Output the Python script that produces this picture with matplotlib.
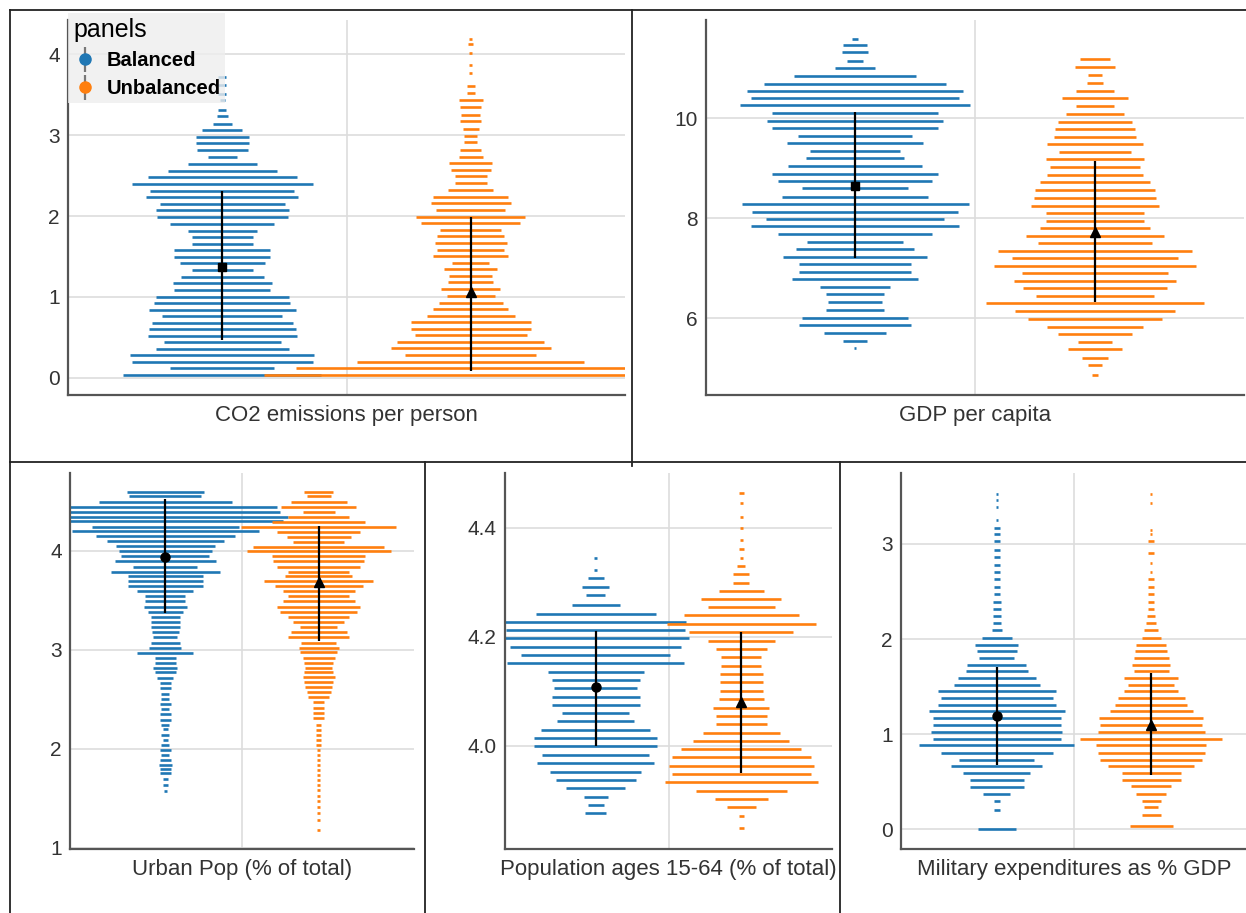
import numpy as np
import matplotlib.pyplot as plt
from matplotlib.lines import Line2D

plt.rcParams['font.family'] = ['Liberation Sans', 'DejaVu Sans']

# ---- data (row value, number of points in the row) ----
co2_blue_y = [3.72, 3.62, 3.51, 3.43, 3.31, 3.23, 3.14, 3.06, 2.98, 2.90, 2.82, 2.73, 2.64, 2.56, 2.48,
              2.40, 2.31, 2.23, 2.15, 2.07, 1.99, 1.90, 1.82, 1.74, 1.66, 1.58, 1.50, 1.42, 1.33, 1.25,
              1.17, 1.09, 1.00, 0.93, 0.84, 0.76, 0.68, 0.60, 0.52, 0.44, 0.36, 0.28, 0.20, 0.12, 0.04]
co2_blue_n = [3, 3, 3, 2, 3, 4, 7, 15, 20, 20, 19, 11, 26, 41, 56, 68, 54, 57, 47, 50, 49, 39, 26, 23, 23,
              36, 36, 32, 23, 31, 37, 36, 50, 51, 55, 45, 53, 55, 56, 44, 50, 69, 68, 39, 74]
co2_orange_y = [4.19, 4.12, 4.01, 3.87, 3.77, 3.61, 3.52, 3.43, 3.34, 3.25, 3.17, 3.08, 2.99, 2.91, 2.82,
                2.73, 2.66, 2.57, 2.49, 2.41, 2.32, 2.24, 2.16, 2.07, 1.99, 1.91, 1.83, 1.75, 1.67, 1.58,
                1.51, 1.42, 1.34, 1.26, 1.18, 1.10, 1.01, 0.93, 0.85, 0.77, 0.69, 0.61, 0.53, 0.44, 0.37,
                0.28, 0.20, 0.12, 0.04]
co2_orange_n = [1, 2, 1, 1, 1, 3, 3, 9, 8, 7, 8, 6, 5, 5, 8, 9, 16, 15, 12, 12, 17, 28, 30, 26, 41, 37, 23,
                25, 27, 25, 28, 14, 20, 16, 17, 22, 18, 24, 28, 33, 45, 45, 42, 55, 60, 49, 85, 131, 155]

gdp_blue_y = [11.59, 11.47, 11.32, 11.15, 11.01, 10.85, 10.70, 10.55, 10.41, 10.27, 10.10, 9.95, 9.80, 9.65,
              9.50, 9.35, 9.20, 9.05, 8.89, 8.75, 8.60, 8.43, 8.29, 8.13, 7.99, 7.85, 7.68, 7.53, 7.38,
              7.23, 7.08, 6.93, 6.78, 6.63, 6.48, 6.32, 6.17, 6.01, 5.87, 5.71, 5.55, 5.40]
gdp_blue_n = [2, 9, 10, 6, 15, 46, 68, 81, 78, 86, 62, 66, 62, 43, 51, 34, 37, 50, 62, 58, 40, 55, 85, 77,
              67, 78, 58, 36, 44, 54, 42, 42, 47, 26, 22, 20, 22, 40, 42, 23, 9, 1]
gdp_orange_y = [11.18, 11.03, 10.87, 10.71, 10.55, 10.40, 10.24, 10.09, 9.93, 9.79, 9.63, 9.49, 9.33, 9.18,
                9.03, 8.87, 8.72, 8.57, 8.41, 8.25, 8.11, 7.95, 7.80, 7.65, 7.50, 7.35, 7.20, 7.05, 6.90,
                6.75, 6.60, 6.45, 6.30, 6.15, 5.99, 5.83, 5.69, 5.53, 5.39, 5.22, 5.07, 4.88]
gdp_orange_n = [11, 15, 5, 6, 14, 25, 14, 22, 28, 30, 31, 36, 27, 37, 34, 36, 41, 45, 46, 48, 37, 37, 41, 52,
                43, 73, 62, 76, 55, 61, 54, 44, 82, 60, 50, 36, 28, 13, 20, 10, 5, 2]

urban_blue_y = [4.59, 4.55, 4.49, 4.44, 4.39, 4.34, 4.30, 4.24, 4.20, 4.15, 4.10, 4.05, 4.00, 3.95, 3.90,
                3.84, 3.79, 3.74, 3.69, 3.64, 3.59, 3.54, 3.49, 3.43, 3.38, 3.33, 3.28, 3.23, 3.18, 3.13,
                3.07, 3.02, 2.97, 2.92, 2.87, 2.82, 2.77, 2.71, 2.66, 2.61, 2.55, 2.50, 2.45, 2.40, 2.35,
                2.29, 2.24, 2.20, 2.14, 2.09, 2.04, 1.99, 1.94, 1.89, 1.84, 1.80, 1.75, 1.69, 1.63, 1.57]
urban_blue_n = [29, 27, 50, 84, 86, 92, 88, 55, 70, 52, 44, 37, 35, 33, 38, 24, 41, 28, 28, 28, 21, 15, 15,
                16, 13, 11, 11, 11, 10, 9, 11, 12, 21, 8, 8, 9, 8, 6, 4, 4, 3, 3, 4, 3, 4, 4, 3, 2, 3, 2,
                3, 4, 3, 4, 5, 4, 4, 2, 2, 1]
urban_orange_y = [4.59, 4.55, 4.49, 4.44, 4.39, 4.34, 4.29, 4.24, 4.19, 4.14, 4.09, 4.04, 4.00, 3.95, 3.90,
                  3.84, 3.79, 3.74, 3.69, 3.64, 3.59, 3.54, 3.49, 3.43, 3.38, 3.33, 3.28, 3.23, 3.18, 3.13,
                  3.07, 3.02, 2.98, 2.92, 2.87, 2.82, 2.77, 2.72, 2.67, 2.62, 2.57, 2.52, 2.47, 2.41, 2.36,
                  2.31, 2.24, 2.19, 2.14, 2.09, 2.04, 1.99, 1.94, 1.89, 1.84, 1.79, 1.73, 1.68, 1.63, 1.58,
                  1.52, 1.47, 1.41, 1.35, 1.28, 1.18]
urban_orange_n = [11, 9, 21, 28, 12, 23, 35, 58, 31, 24, 19, 49, 54, 35, 34, 31, 23, 25, 41, 33, 27, 23, 27,
                  31, 29, 23, 19, 14, 21, 23, 13, 15, 14, 12, 11, 10, 11, 12, 11, 10, 9, 8, 4, 4, 4, 4, 2,
                  2, 2, 2, 2, 1, 1, 1, 1, 1, 1, 1, 1, 1, 1, 1, 1, 1, 1, 1]

pop_blue_y = [4.344, 4.322, 4.307, 4.292, 4.276, 4.258, 4.242, 4.227, 4.213, 4.197, 4.182, 4.167, 4.151,
              4.136, 4.121, 4.106, 4.090, 4.075, 4.060, 4.045, 4.029, 4.014, 3.999, 3.984, 3.968, 3.953,
              3.938, 3.922, 3.907, 3.892, 3.877]
pop_blue_n = [1, 1, 6, 10, 7, 18, 45, 68, 67, 70, 64, 56, 66, 36, 33, 31, 33, 33, 25, 29, 41, 46, 46, 40,
              44, 34, 30, 22, 9, 6, 8]
pop_orange_y = [4.463, 4.445, 4.419, 4.400, 4.377, 4.360, 4.344, 4.329, 4.315, 4.299, 4.284, 4.269, 4.254,
                4.239, 4.224, 4.209, 4.193, 4.178, 4.162, 4.147, 4.132, 4.117, 4.101, 4.086, 4.070, 4.055,
                4.040, 4.024, 4.009, 3.994, 3.979, 3.964, 3.949, 3.933, 3.918, 3.903, 3.888, 3.871, 3.849]
pop_orange_n = [2, 1, 1, 1, 1, 2, 1, 3, 6, 6, 17, 30, 25, 43, 56, 39, 25, 19, 15, 15, 16, 16, 16, 17, 21,
                19, 19, 29, 36, 45, 52, 54, 52, 57, 34, 20, 11, 2, 2]

mil_blue_y = [3.53, 3.46, 3.39, 3.25, 3.17, 3.10, 3.03, 2.94, 2.86, 2.78, 2.70, 2.63, 2.55, 2.47, 2.39,
              2.32, 2.24, 2.17, 2.09, 2.01, 1.94, 1.87, 1.80, 1.73, 1.66, 1.59, 1.52, 1.45, 1.38, 1.31,
              1.24, 1.17, 1.09, 1.02, 0.95, 0.88, 0.80, 0.73, 0.66, 0.59, 0.52, 0.44, 0.37, 0.30, 0.20, 0.00]
mil_blue_n = [1, 1, 1, 1, 2, 2, 2, 2, 2, 2, 2, 2, 2, 2, 3, 3, 3, 3, 4, 11, 16, 15, 13, 22, 23, 29, 32, 44,
              42, 44, 51, 48, 48, 49, 48, 58, 42, 28, 34, 25, 20, 20, 10, 2, 2, 14]
mil_orange_y = [3.53, 3.43, 3.15, 3.11, 3.03, 2.90, 2.80, 2.71, 2.63, 2.55, 2.47, 2.39, 2.32, 2.24, 2.17,
                2.09, 2.01, 1.94, 1.87, 1.80, 1.73, 1.66, 1.59, 1.52, 1.45, 1.38, 1.31, 1.24, 1.17, 1.09,
                1.02, 0.95, 0.88, 0.80, 0.73, 0.66, 0.59, 0.52, 0.45, 0.37, 0.30, 0.23, 0.15, 0.03]
mil_orange_n = [1, 1, 1, 1, 2, 2, 1, 1, 2, 2, 2, 2, 2, 3, 4, 5, 7, 11, 12, 13, 14, 13, 20, 17, 20, 25, 27,
                31, 39, 38, 40, 53, 41, 40, 38, 32, 22, 22, 15, 11, 7, 5, 7, 16]

# mean, lower, upper of the black error bars
co2_stats = [(1.37, 0.47, 2.31), (1.06, 0.09, 1.99)]
gdp_stats = [(8.65, 7.20, 10.13), (7.72, 6.32, 9.15)]
urban_stats = [(3.94, 3.37, 4.52), (3.68, 3.09, 4.25)]
pop_stats = [(4.107, 4.000, 4.211), (4.080, 3.950, 4.209)]
mil_stats = [(1.19, 0.67, 1.71), (1.10, 0.57, 1.64)]

panel_labels = ['CO2 emissions per person', 'GDP per capita', 'Urban Pop (% of total)',
                'Population ages 15-64 (% of total)', 'Military expenditures as % GDP']
group_labels = ['Balanced', 'Unbalanced']

BLUE = '#1f77b4'
ORANGE = '#ff7f0e'
DODGE = 0.223
DOT_PX = 2.67

W, H = 1246, 913
fig = plt.figure(figsize=(W / 100, H / 100), dpi=100)


def add_axes_px(left, top, right, bottom):
    return fig.add_axes([left / W, 1 - bottom / H, (right - left) / W, (bottom - top) / H])


def draw_panel(ax, label, ylim, yticks, yticklabels, blue, orange, stats, blue_marker, ms):
    ax.set_xlim(-0.5, 0.5)
    ax.set_ylim(*ylim)
    step = DOT_PX / ax.bbox.width  # x data units per point in a row
    for xc, (ys, ns), col in ((-DODGE, blue, BLUE), (DODGE, orange, ORANGE)):
        ys = np.asarray(ys)
        w = np.asarray(ns) * step
        ax.hlines(ys, xc - w / 2, xc + w / 2, colors=col, lw=1.9, zorder=2)
    for xc, (m, lo, hi), mk, size in ((-DODGE, stats[0], blue_marker, ms[0]),
                                      (DODGE, stats[1], '^', ms[1])):
        ax.errorbar([xc], [m], yerr=[[m - lo], [hi - m]], fmt=mk, color='black', ms=size,
                    elinewidth=1.6, capsize=0, zorder=4)
    ax.set_xticks([0])
    ax.set_xticklabels([label])
    ax.set_yticks(yticks)
    ax.set_yticklabels(yticklabels)
    ax.grid(True, color='#dddddd', lw=1.2)
    ax.set_axisbelow(True)
    for s in ('top', 'right'):
        ax.spines[s].set_visible(False)
    for s in ('left', 'bottom'):
        ax.spines[s].set_color('#555555')
        ax.spines[s].set_linewidth(1.6)
    ax.tick_params(length=0, labelsize=15, labelcolor='#333333', pad=6)
    ax.tick_params(axis='x', labelsize=16, pad=7)


ax1 = add_axes_px(68, 20, 625, 395)
draw_panel(ax1, panel_labels[0], (-0.21, 4.42), [0, 1, 2, 3, 4], ['0', '1', '2', '3', '4'],
           (co2_blue_y, co2_blue_n), (co2_orange_y, co2_orange_n), co2_stats, 's', (5.5, 7))

ax2 = add_axes_px(706, 20, 1244, 395)
draw_panel(ax2, panel_labels[1], (4.47, 11.97), [6, 8, 10], ['6', '8', '10'],
           (gdp_blue_y, gdp_blue_n), (gdp_orange_y, gdp_orange_n), gdp_stats, 's', (5.5, 7))

ax3 = add_axes_px(70, 473, 414, 849)
draw_panel(ax3, panel_labels[2], (0.987, 4.785), [1, 2, 3, 4], ['1', '2', '3', '4'],
           (urban_blue_y, urban_blue_n), (urban_orange_y, urban_orange_n), urban_stats, 'o', (6.5, 7.5))

ax4 = add_axes_px(505, 473, 832, 849)
draw_panel(ax4, panel_labels[3], (3.811, 4.50), [4.0, 4.2, 4.4], ['4.0', '4.2', '4.4'],
           (pop_blue_y, pop_blue_n), (pop_orange_y, pop_orange_n), pop_stats, 'o', (6.5, 7.5))

ax5 = add_axes_px(901, 473, 1247, 849)
draw_panel(ax5, panel_labels[4], (-0.21, 3.747), [0, 1, 2, 3], ['0', '1', '2', '3'],
           (mil_blue_y, mil_blue_n), (mil_orange_y, mil_orange_n), mil_stats, 'o', (6.5, 7.5))

# legend in the first panel
handles = []
for col in (BLUE, ORANGE):
    bar = Line2D([], [], marker='|', color='#777777', ms=18, mew=1.6, ls='none')
    dot = Line2D([], [], marker='o', color=col, ms=8, ls='none')
    handles.append((bar, dot))
leg = ax1.legend(handles, group_labels, title='panels', loc='upper left',
                 bbox_to_anchor=(0.0, 1.02), frameon=True, facecolor='#eeeeee', edgecolor='none',
                 framealpha=0.8, fancybox=False, handlelength=1.2, handletextpad=0.45,
                 borderpad=0.25, labelspacing=0.45, borderaxespad=0.0, alignment='left',
                 prop={'weight': 'bold', 'size': 14.5}, title_fontsize=18)
leg.set_zorder(10)

# table-like border lines of the screenshot
border = [((10, 10), (1246, 10)), ((10, 10), (10, 462)), ((632, 10), (632, 466)),
          ((10, 462), (1246, 462)), ((10, 462), (10, 913)), ((425, 462), (425, 913)),
          ((840, 462), (840, 913))]
for (x0, y0), (x1, y1) in border:
    fig.add_artist(Line2D([x0 / W, x1 / W], [1 - y0 / H, 1 - y1 / H], transform=fig.transFigure,
                          color='#222222', lw=1.3))

fig.savefig('out.png', dpi=100)
